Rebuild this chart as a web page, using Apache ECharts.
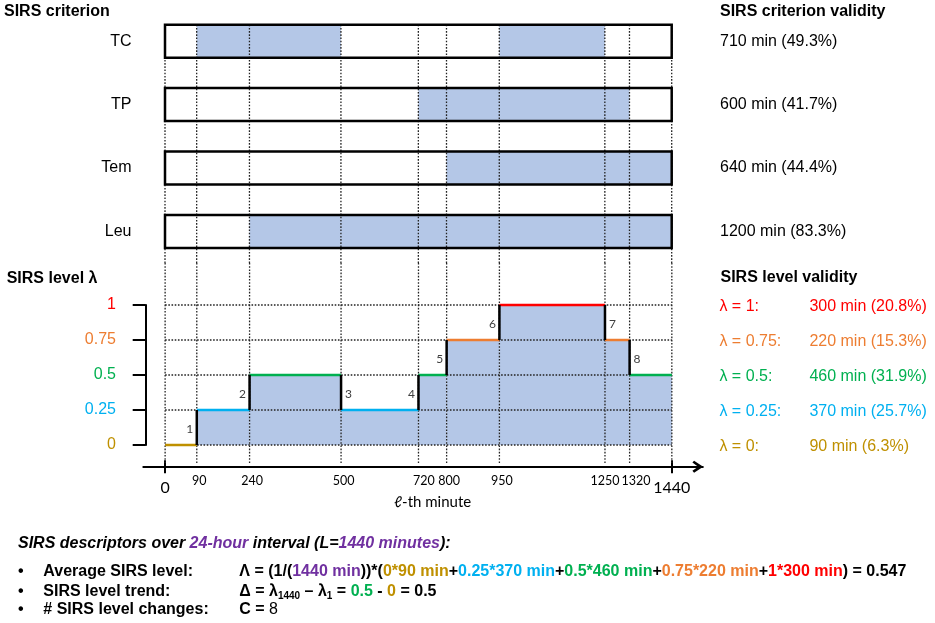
<!DOCTYPE html>
<html><head><meta charset="utf-8">
<script src="https://cdn.jsdelivr.net/npm/echarts@6/dist/echarts.min.js"></script>
<style>html,body{margin:0;padding:0;background:#fff}#c{width:935px;height:623px}</style>
</head><body><div id="c"></div>
<script>
// ---------- data ----------
const criteria = ['TC', 'TP', 'Tem', 'Leu'];
const criterionIntervals = [[[90, 500], [950, 1250]], [[720, 1320]], [[800, 1440]], [[240, 1440]]];
const criterionValidity = ['710 min (49.3%)', '600 min (41.7%)', '640 min (44.4%)', '1200 min (83.3%)'];
const breakpoints = [0, 90, 240, 500, 720, 800, 950, 1250, 1320, 1440];
const stepStarts = [0, 90, 240, 500, 720, 800, 950, 1250, 1320];
const stepEnds = [90, 240, 500, 720, 800, 950, 1250, 1320, 1440];
const stepLevels = [0, 0.25, 0.5, 0.25, 0.5, 0.75, 1, 0.75, 0.5];
const levelTicks = [0, 0.25, 0.5, 0.75, 1];
const levelLabels = ['0', '0.25', '0.5', '0.75', '1'];
const levelMinutes = [90, 370, 460, 220, 300];
const levelPercents = ['6.3', '25.7', '31.9', '15.3', '20.8'];
const bigTicks = [0, 1440];
const minuteTicks = [90, 240, 500, 720, 800, 950, 1250, 1320];
const dayMinutes = 1440;
const averageLevel = '0.547';

// ---------- style ----------
const ARIAL = '"Liberation Sans", Arial, sans-serif';
const CAL = 'Lato, "Open Sans", sans-serif';
const FILL = '#B4C7E7';
const DOT = '#222';
const levelColors = ['#BF9000', '#00B0F0', '#00B050', '#ED7D31', '#FF0000'];
const PURPLE = '#7030A0';
const BOX_RATIO = 0.52;
const colorOf = v => levelColors[levelTicks.indexOf(v)];

const steps = stepStarts.map((s, i) => [s, stepEnds[i], stepLevels[i]]);
const transitions = [];
for (let i = 1; i < stepStarts.length; i++) transitions.push([stepStarts[i], stepLevels[i - 1], stepLevels[i], i]);
const rowItems = criteria.map((c, i) => [0, dayMinutes, i]);
const fillItems = [];
criterionIntervals.forEach((list, i) => list.forEach(iv => fillItems.push([iv[0], iv[1], i])));

const dotStyle = { stroke: DOT, lineWidth: 1.3, lineDash: [1.6, 1.6] };

function rowRect(api, style) {
  const s = api.coord([api.value(0), api.value(2)]);
  const e = api.coord([api.value(1), api.value(2)]);
  const h = api.size([0, 1])[1] * BOX_RATIO;
  return { type: 'rect', shape: { x: s[0], y: s[1] - h / 2, width: e[0] - s[0], height: h }, style };
}

const validityRich = {};
levelTicks.forEach((v, i) => {
  validityRich['l' + i] = { color: levelColors[i], fontSize: 16, fontFamily: ARIAL, width: 90 };
  validityRich['v' + i] = { color: levelColors[i], fontSize: 16, fontFamily: ARIAL };
});

const chart = echarts.init(document.getElementById('c'), null, { renderer: 'canvas' });

const T = (k, s) => '{' + k + '|' + s + '}';
const formula = T('k', 'Λ = (1/(') + T('p', dayMinutes + ' min') + T('k', '))*(') +
  levelTicks.map((v, i) => T('c' + i, levelLabels[i] + '*' + levelMinutes[i] + ' min')).join(T('k', '+')) +
  T('k', ') = ' + averageLevel);
const trend = T('k', 'Δ = λ') + T('s', String(dayMinutes)) + T('k', ' – λ') + T('s', '1') + T('k', ' = ') +
  T('c2', '0.5') + T('k', ' - ') + T('c0', '0') + T('k', ' = 0.5');
const changes = T('k', 'C = ') + T('n', String(transitions.length));
const formulaRich = {
  k: { fontSize: 16, fontWeight: 'bold', fontFamily: ARIAL, fill: '#000' },
  p: { fontSize: 16, fontWeight: 'bold', fontFamily: ARIAL, fill: PURPLE },
  s: { fontSize: 10, fontWeight: 'bold', fontFamily: ARIAL, fill: '#000', padding: [9, 0, 0, 0] },
  n: { fontSize: 16, fontWeight: 'normal', fontFamily: ARIAL, fill: '#000' }
};
levelColors.forEach((c, i) => { formulaRich['c' + i] = { fontSize: 16, fontWeight: 'bold', fontFamily: ARIAL, fill: c }; });

function txt(x, y, text, opts) {
  return { type: 'text', x: x, y: y, silent: true, style: Object.assign({ text: text, fill: '#000', fontSize: 16, fontFamily: ARIAL, verticalAlign: 'middle', align: 'left' }, opts || {}) };
}

const option = {
  animation: false,
  backgroundColor: '#fff',
  grid: [
    { left: 165, top: 9.5, width: 506.7, height: 253.6, outerBoundsMode: 'none' },
    { left: 143.3, top: 305, width: 559.5, height: 140, outerBoundsMode: 'none' }
  ],
  xAxis: [
    { gridIndex: 0, type: 'value', min: 0, max: dayMinutes, show: false },
    {
      gridIndex: 1, type: 'value', min: -62, max: 1528, position: 'bottom', offset: 21.7,
      axisLine: { show: true, onZero: false, lineStyle: { color: '#000', width: 2 },
        symbol: ['none', 'path://M5,0 L10,7.6 L8.4,9 L5,4.2 L1.6,9 L0,7.6 Z'], symbolSize: [12, 11], symbolOffset: [0, -5] },
      axisTick: { show: true, customValues: bigTicks, length: 6.5, lineStyle: { color: '#000', width: 2 } },
      axisLabel: { show: true, customValues: bigTicks, margin: 13.5, fontSize: 16, fontFamily: CAL, color: '#000',
        formatter: v => String(v) },
      splitLine: { show: false }
    },
    {
      gridIndex: 1, type: 'value', min: -62, max: 1528, position: 'bottom', offset: 21.7,
      axisLine: { show: false, onZero: false },
      axisTick: { show: true, inside: true, customValues: bigTicks, length: 6.5, lineStyle: { color: '#000', width: 2 } },
      axisLabel: {
        show: true, customValues: minuteTicks, margin: 7.5, fontSize: 12.5, fontFamily: CAL, color: '#000',
        formatter: v => v === 720 ? T('b', v) : v === 1320 ? T('c', v) : v === 1250 ? String(v) : T('a', v),
        rich: {
          a: { fontSize: 12.5, fontFamily: CAL, color: '#000', padding: [0, 0, 0, 5] },
          b: { fontSize: 12.5, fontFamily: CAL, color: '#000', padding: [0, 0, 0, 11] },
          c: { fontSize: 12.5, fontFamily: CAL, color: '#000', padding: [0, 0, 0, 13] }
        }
      },
      splitLine: { show: false }
    }
  ],
  yAxis: [
    {
      gridIndex: 0, type: 'category', data: criteria, inverse: true, position: 'left',
      axisLine: { show: false }, axisTick: { show: false }, splitLine: { show: false },
      axisLabel: { interval: 0, margin: 33.5, fontSize: 16, fontFamily: ARIAL, color: '#000', padding: [8, 0, 0, 0] }
    },
    {
      gridIndex: 0, type: 'category', data: criteria, inverse: true, position: 'right',
      axisLine: { show: false }, axisTick: { show: false }, splitLine: { show: false },
      axisLabel: { interval: 0, margin: 48.3, fontSize: 16, fontFamily: ARIAL, color: '#000', padding: [8, 0, 0, 0],
        formatter: (v, i) => criterionValidity[i] }
    },
    {
      gridIndex: 1, type: 'value', min: 0, max: 1, interval: 0.25, position: 'left', offset: -2.4,
      axisLine: { show: true, onZero: false, lineStyle: { color: '#000', width: 2 } },
      axisTick: { show: true, length: 13, lineStyle: { color: '#000', width: 2 } },
      splitLine: { show: false },
      axisLabel: { margin: 29.7, fontSize: 16, fontFamily: ARIAL,
        formatter: v => levelLabels[levelTicks.indexOf(v)],
        color: v => colorOf(Number(v)) }
    },
    {
      gridIndex: 1, type: 'value', min: 0, max: 1, interval: 0.25, position: 'right',
      axisLine: { show: false, onZero: false }, axisTick: { show: false }, splitLine: { show: false },
      axisLabel: { margin: 16.6, align: 'left', padding: [3, 0, 0, 0],
        formatter: v => { const i = levelTicks.indexOf(v); return T('l' + i, 'λ = ' + levelLabels[i] + ':') + T('v' + i, levelMinutes[i] + ' min (' + levelPercents[i] + '%)'); },
        rich: validityRich }
    }
  ],
  series: [
    { type: 'custom', xAxisIndex: 0, yAxisIndex: 0, z: 1, silent: true, data: rowItems, encode: { x: [0, 1], y: 2 },
      renderItem: (p, api) => rowRect(api, { fill: '#fff' }) },
    { type: 'custom', xAxisIndex: 0, yAxisIndex: 0, z: 2, silent: true, data: fillItems, encode: { x: [0, 1], y: 2 },
      renderItem: (p, api) => rowRect(api, { fill: FILL }) },
    { type: 'custom', xAxisIndex: 0, yAxisIndex: 0, z: 3, silent: true, data: breakpoints.map(b => [b, 0]), encode: { x: 0, y: 1 },
      renderItem: (p, api) => {
        const pt = api.coord([api.value(0), 0]);
        const h = api.size([0, 1])[1] * BOX_RATIO;
        return { type: 'line', shape: { x1: pt[0], y1: pt[1] - h / 2, x2: pt[0], y2: p.coordSys.y + p.coordSys.height }, style: dotStyle };
      } },
    { type: 'custom', xAxisIndex: 0, yAxisIndex: 0, z: 4, silent: true, data: rowItems, encode: { x: [0, 1], y: 2 },
      renderItem: (p, api) => rowRect(api, { fill: 'none', stroke: '#000', lineWidth: 2.5 }) },

    { type: 'custom', xAxisIndex: 2, yAxisIndex: 2, z: 1, silent: true, data: steps, encode: { x: [0, 1], y: 2 },
      renderItem: (p, api) => {
        const a = api.coord([api.value(0), api.value(2)]);
        const b = api.coord([api.value(1), 0]);
        return { type: 'rect', shape: { x: a[0], y: a[1], width: b[0] - a[0], height: b[1] - a[1] }, style: { fill: FILL } };
      } },
    { type: 'custom', xAxisIndex: 2, yAxisIndex: 2, z: 2, silent: true, data: levelTicks.map(v => [0, dayMinutes, v]), encode: { x: [0, 1], y: 2 },
      renderItem: (p, api) => {
        const a = api.coord([api.value(0), api.value(2)]);
        const b = api.coord([api.value(1), api.value(2)]);
        return { type: 'line', shape: { x1: a[0], y1: a[1], x2: b[0], y2: b[1] }, style: dotStyle };
      } },
    { type: 'custom', xAxisIndex: 2, yAxisIndex: 2, z: 2, silent: true, data: breakpoints.map(b => [b, 0]), encode: { x: 0, y: 1 },
      renderItem: (p, api) => {
        const pt = api.coord([api.value(0), 0]);
        return { type: 'line', shape: { x1: pt[0], y1: p.coordSys.y - 42, x2: pt[0], y2: pt[1] + 18 }, style: dotStyle };
      } },
    { type: 'custom', xAxisIndex: 2, yAxisIndex: 2, z: 3, silent: true, data: steps, encode: { x: [0, 1], y: 2 },
      renderItem: (p, api) => {
        const a = api.coord([api.value(0), api.value(2)]);
        const b = api.coord([api.value(1), api.value(2)]);
        return { type: 'line', shape: { x1: a[0], y1: a[1], x2: b[0], y2: b[1] }, style: { stroke: colorOf(api.value(2)), lineWidth: 2.5 } };
      } },
    { type: 'custom', xAxisIndex: 2, yAxisIndex: 2, z: 4, silent: true, data: transitions, encode: { x: 0, y: [1, 2] },
      renderItem: (p, api) => {
        const from = api.value(1), to = api.value(2);
        const a = api.coord([api.value(0), from]);
        const b = api.coord([api.value(0), to]);
        const up = to > from;
        return { type: 'group', children: [
          { type: 'line', shape: { x1: a[0], y1: a[1], x2: b[0], y2: b[1] }, style: { stroke: '#000', lineWidth: 2.5 } },
          { type: 'text', style: { text: String(api.value(3)), x: a[0] + (up ? -3.5 : 4), y: (a[1] + b[1]) / 2 + 2,
            align: up ? 'right' : 'left', verticalAlign: 'middle', fontSize: 12, fontFamily: CAL, fill: '#404040' } }
        ] };
      } }
  ],
  graphic: [
    txt(4, 12, 'SIRS criterion', { fontWeight: 'bold' }),
    txt(720, 12, 'SIRS criterion validity', { fontWeight: 'bold' }),
    txt(6.7, 278.5, 'SIRS level λ', { fontWeight: 'bold' }),
    txt(720.5, 277.5, 'SIRS level validity', { fontWeight: 'bold' }),
    txt(394, 502.5, 'ℓ-th minute', { fontFamily: CAL, fontSize: 15 }),
    txt(18, 543.5, T('i', 'SIRS descriptors over ') + T('ip', '24-hour') + T('i', ' interval (L=') + T('ip', dayMinutes + ' minutes') + T('i', '):'), {
      rich: {
        i: { fontSize: 16, fontWeight: 'bold', fontStyle: 'italic', fontFamily: ARIAL, fill: '#000' },
        ip: { fontSize: 16, fontWeight: 'bold', fontStyle: 'italic', fontFamily: ARIAL, fill: PURPLE }
      } }),
    txt(18, 572, '•', { fontWeight: 'bold' }),
    txt(18, 591.5, '•', { fontWeight: 'bold' }),
    txt(18, 610, '•', { fontWeight: 'bold' }),
    txt(43.3, 572, 'Average SIRS level:', { fontWeight: 'bold' }),
    txt(43.3, 591.5, 'SIRS level trend:', { fontWeight: 'bold' }),
    txt(43.3, 610, '# SIRS level changes:', { fontWeight: 'bold' }),
    txt(239.3, 572, formula, { rich: formulaRich }),
    txt(239.3, 591.5, trend, { rich: formulaRich }),
    txt(239.3, 610, changes, { rich: formulaRich })
  ]
};
chart.setOption(option);
</script>
</body></html>
